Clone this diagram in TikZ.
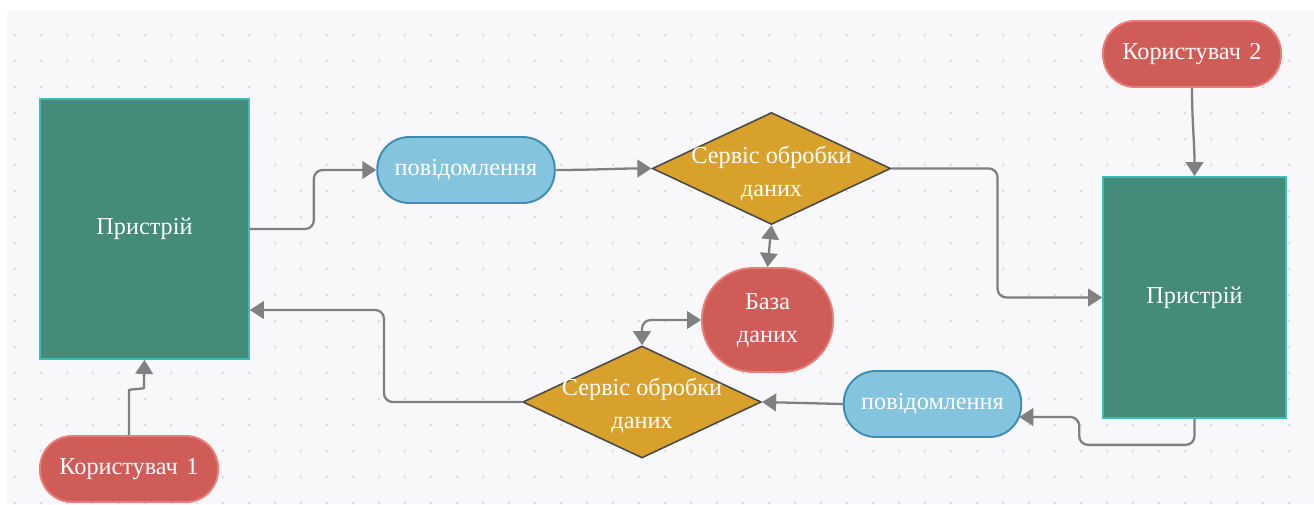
\documentclass[tikz,border=0pt]{standalone}
\usepackage{fontspec}
\setmainfont{Liberation Serif}
\usetikzlibrary{shapes.geometric,arrows.meta,calc}
\definecolor{bg}{HTML}{F8F8FB}
\definecolor{dotc}{HTML}{D9D9DE}
\definecolor{devfill}{HTML}{448B79}
\definecolor{devline}{HTML}{3DBDB8}
\definecolor{userfill}{HTML}{D05C58}
\definecolor{userline}{HTML}{E87E7A}
\definecolor{msgfill}{HTML}{85C4DE}
\definecolor{msgline}{HTML}{3B8DB3}
\definecolor{svcfill}{HTML}{D7A12B}
\definecolor{svcline}{HTML}{4A4A4A}
\definecolor{conn}{HTML}{808080}
\begin{document}
\begin{tikzpicture}[x=0.02cm,y=-0.02cm,
 lbl/.style={text=white,font=\fontsize{13.8}{18.8}\selectfont,align=center},
 device/.style={lbl,draw=devline,fill=devfill,line width=1pt,inner sep=0pt},
 user/.style={lbl,draw=userline,fill=userfill,line width=1.1pt,rounded corners=0.64cm,minimum width=3.56cm,minimum height=1.32cm,inner sep=0pt},
 msg/.style={lbl,draw=msgline,fill=msgfill,line width=1.1pt,rounded corners=0.64cm,minimum width=3.55cm,minimum height=1.32cm,inner sep=0pt},
 svc/.style={diamond,draw=svcline,fill=svcfill,line width=0.9pt,minimum width=4.77cm,minimum height=2.24cm,inner sep=0pt},
 db/.style={lbl,draw=userline,fill=userfill,line width=1.1pt,rounded corners=1.02cm,minimum width=2.62cm,minimum height=2.08cm,inner sep=0pt},
 tip/.tip={Triangle[length=8pt,width=10pt]},
 link/.style={draw=conn,line width=1.3pt,rounded corners=5pt,-tip},
 link2/.style={draw=conn,line width=1.3pt,rounded corners=5pt,tip-tip},
]
\useasboundingbox (0,0) rectangle (1314,504);
\fill[white] (0,0) rectangle (1314,504);
\fill[bg] (7,11) rectangle (1314,504);
\foreach \x in {15,41,...,1314} \foreach \y in {35,61,...,504} \fill[dotc] (\x,\y) circle[radius=0.75pt];

% nodes
\node[device,minimum width=4.18cm,minimum height=5.2cm] (L) at (144.5,229) {Пристрій};
\node[device,minimum width=3.66cm,minimum height=4.82cm] (R) at (1194.5,297.5) {Пристрій};
\node[user] (U1) at (129,469) {Користувач\hspace{0.35em}1};
\node[user] (U2) at (1192,54) {Користувач\hspace{0.35em}2};
\node[msg] (m1) at (466,170) {повідомлення};
\node[msg] (m2) at (932.5,404) {повідомлення};
\node[svc,label={[lbl,yshift=-3pt]center:{Сервіс обробки\\даних}}] (d1) at (771.5,168.5) {};
\node[svc,label={[lbl,yshift=-2pt]center:{Сервіс обробки\\даних}}] (d2) at (642,402) {};
\node[db] (DB) at (767.5,320) {База\\даних};

% connectors
\draw[link] (L.east) -- ++(64,0) |- (m1.west);
\draw[link] (m1.east) to[out=0,in=180] (d1.west);
\draw[link] (d1.east) -- ++(106,0) |- (R.west);
\draw[link] (U2.south) to[out=-90,in=90] (R.north);
\draw[link] (R.south) -- ++(0,26) -| ($(m2.east)+(57,13)$) -- ($(m2.east)+(-3,13)$);
\draw[link] (m2.west) -- (d2.east);
\draw[link] (d2.west) -- ++(-138,0) |- ($(L.east)+(0,81)$);
\draw[link] (U1.north) -- ++(0,-36) .. controls +(0,-10) and +(0,10) .. ++(15,-20) -- (L.south);
\draw[link2] (d1.south) -- (DB.north);
\draw[link2] (d2.north) |- (DB.west);
\end{tikzpicture}
\end{document}
